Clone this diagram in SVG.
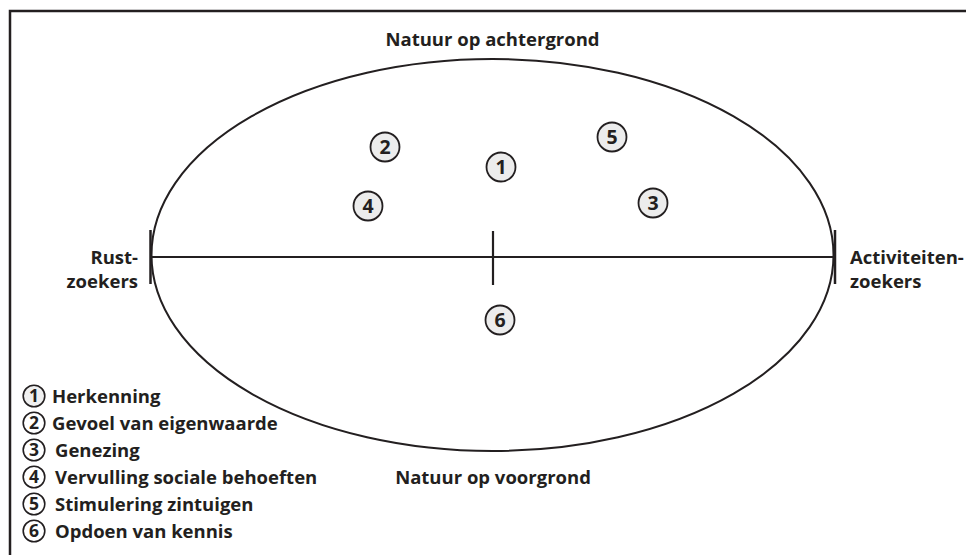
<svg xmlns="http://www.w3.org/2000/svg" width="966" height="555" viewBox="0 0 966 555">
<style>
text{font-family:"Open Sans","Liberation Sans",sans-serif;font-weight:bold;fill:#231f20}
.lbl{font-size:18.5px}
.num{font-size:19.5px;text-anchor:middle}
.lnum{font-size:17.5px;text-anchor:middle}
.mk{fill:#ececec;stroke:#231f20;stroke-width:1.8}
.lmk{fill:#fff;stroke:#231f20;stroke-width:1.6}
.ln{stroke:#231f20;fill:none}
</style>
<rect width="966" height="555" fill="#fff"/>
<g id="frame">
<path class="ln" d="M10 555 V11 H966" stroke-width="2.5"/>
</g>
<g id="axes">
<ellipse class="ln" cx="492.5" cy="255" rx="341" ry="196" stroke-width="2"/>
<line class="ln" x1="151" y1="257" x2="835" y2="257" stroke-width="2"/>
<line class="ln" x1="493" y1="231" x2="493" y2="285" stroke-width="2.2"/>
<line class="ln" x1="150.5" y1="230" x2="150.5" y2="284" stroke-width="2.5"/>
<line class="ln" x1="835" y1="230" x2="835" y2="284" stroke-width="2.5"/>
</g>
<g id="title-top"><text class="lbl" x="492.5" y="46" text-anchor="middle">Natuur op achtergrond</text></g>
<g id="title-bottom"><text class="lbl" x="493" y="484" text-anchor="middle">Natuur op voorgrond</text></g>
<g id="left-label">
<text class="lbl" x="138" y="264" text-anchor="end">Rust-</text>
<text class="lbl" x="138" y="288" text-anchor="end">zoekers</text>
</g>
<g id="right-label">
<text class="lbl" x="850" y="264">Activiteiten-</text>
<text class="lbl" x="850" y="288">zoekers</text>
</g>
<g id="n1"><circle class="mk" cx="501" cy="167" r="14.5"/><text class="num" x="501" y="174">1</text></g>
<g id="n2"><circle class="mk" cx="385" cy="147" r="14.5"/><text class="num" x="385" y="154">2</text></g>
<g id="n3"><circle class="mk" cx="653" cy="203" r="14.5"/><text class="num" x="653" y="210">3</text></g>
<g id="n4"><circle class="mk" cx="368" cy="206" r="14.5"/><text class="num" x="368" y="213">4</text></g>
<g id="n5"><circle class="mk" cx="612" cy="137" r="14.5"/><text class="num" x="612" y="144">5</text></g>
<g id="n6"><circle class="mk" cx="500" cy="320" r="14.5"/><text class="num" x="500" y="327">6</text></g>
<g id="legend">
<circle class="lmk" cx="34" cy="396" r="10.8" style="fill:#f0f0f0"/><text class="lnum" x="34" y="402">1</text>
<text class="lbl" x="52" y="403">Herkenning</text>
<circle class="lmk" cx="34" cy="423" r="10.8"/><text class="lnum" x="34" y="429">2</text>
<text class="lbl" x="52" y="430">Gevoel van eigenwaarde</text>
<circle class="lmk" cx="34" cy="450" r="10.8"/><text class="lnum" x="34" y="456">3</text>
<text class="lbl" x="55" y="457">Genezing</text>
<circle class="lmk" cx="34" cy="477" r="10.8"/><text class="lnum" x="34" y="483">4</text>
<text class="lbl" x="55" y="484">Vervulling sociale behoeften</text>
<circle class="lmk" cx="34" cy="504" r="10.8"/><text class="lnum" x="34" y="510">5</text>
<text class="lbl" x="55" y="511">Stimulering zintuigen</text>
<circle class="lmk" cx="34" cy="531" r="10.8"/><text class="lnum" x="34" y="537">6</text>
<text class="lbl" x="55" y="538">Opdoen van kennis</text>
</g>
</svg>
